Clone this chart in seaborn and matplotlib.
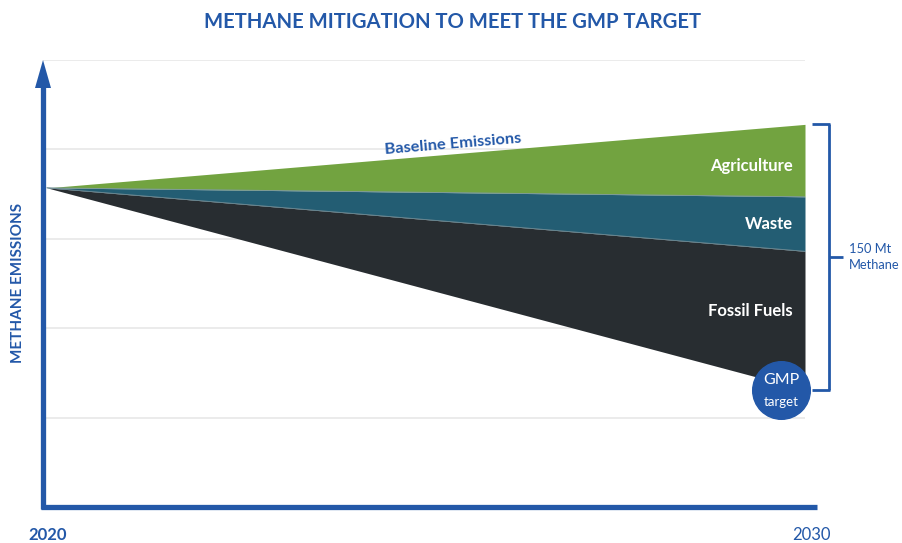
import numpy as np
import pandas as pd
import matplotlib
matplotlib.use("Agg")
import matplotlib.pyplot as plt
import matplotlib.transforms as mtransforms
from matplotlib.lines import Line2D
from matplotlib.patches import Polygon
import seaborn as sns

# ---- data (arbitrary emission units) ----
years = [2020, 2030]
baseline = [3.57, 4.28]          # Baseline Emissions
after_agriculture = [3.57, 3.47]
after_waste = [3.57, 2.86]
gmp_target = [3.57, 1.31]
sector_labels = ["Agriculture", "Waste", "Fossil Fuels"]
title = "METHANE MITIGATION TO MEET THE GMP TARGET"
ylabel = "METHANE EMISSIONS"
x_tick_labels = ["2020", "2030"]
bracket_label = "150 Mt\nMethane"

BLUE = "#2358a8"
GREEN = "#72a340"
TEAL = "#235d73"
DARK = "#282d31"

sns.set_theme(style="white")
plt.rcParams["font.family"] = ["Lato", "DejaVu Sans"]

W, H = 903, 543
fig = plt.figure(figsize=(W / 100, H / 100), dpi=100)
ax_left, ax_right, ax_top, ax_bot = 43, 805, 60, 507
ax = fig.add_axes([ax_left / W, 1 - ax_bot / H, (ax_right - ax_left) / W, (ax_bot - ax_top) / H])

df = pd.DataFrame({"year": years, "baseline": baseline, "agri": after_agriculture,
                   "waste": after_waste, "target": gmp_target})

ax.fill_between(df["year"], df["agri"], df["baseline"], color=GREEN, lw=0, zorder=2)
ax.fill_between(df["year"], df["waste"], df["agri"], color=TEAL, lw=0, zorder=2)
ax.fill_between(df["year"], df["target"], df["waste"], color=DARK, lw=0, zorder=2)
sns.lineplot(data=df, x="year", y="agri", ax=ax, color="#7f9aa3", lw=0.6, zorder=3)
sns.lineplot(data=df, x="year", y="waste", ax=ax, color="#6f8a93", lw=0.6, zorder=3)

# x range: 2020 sits a few pixels right of the vertical axis line
ax.set_xlim(2020 - 10 * 4 / 758, 2030)
ax.set_ylim(0, 5)
ax.set_yticks([1, 2, 3, 4, 5])
ax.set_xticks([])
ax.set_yticklabels([])
ax.tick_params(left=False, bottom=False)
ax.grid(axis="y", color="#e8e8e8", lw=1.2, zorder=0)
ax.set_xlabel("")
ax.set_ylabel("")
for s in ax.spines.values():
    s.set_visible(False)


def px(x, y):
    return (x / W, 1 - y / H)


# axes lines with arrow
tf = fig.transFigure
fig.add_artist(Line2D([px(43, 0)[0], px(43, 0)[0]], [px(0, 509)[1], px(0, 84)[1]],
                      transform=tf, color=BLUE, lw=3.8, solid_capstyle="butt"))
fig.add_artist(Polygon([px(35, 88), px(51, 88), px(43, 60)], closed=True,
                       transform=tf, color=BLUE, lw=0))
fig.add_artist(Line2D([px(41, 0)[0], px(817, 0)[0]], [px(0, 507)[1], px(0, 507)[1]],
                      transform=tf, color=BLUE, lw=3.8, solid_capstyle="butt"))

# title & axis labels
fig.text(px(453, 0)[0], px(0, 22)[1], title, ha="center", va="center", color=BLUE,
         fontsize=14.6, fontweight="bold")
fig.text(px(18, 0)[0], px(0, 283)[1], ylabel, rotation=90, ha="center", va="center",
         color=BLUE, fontsize=11, fontweight="bold")
fig.text(px(48, 0)[0], px(0, 535)[1], x_tick_labels[0], ha="center", va="center",
         color=BLUE, fontsize=12, fontweight="bold")
fig.text(px(811, 0)[0], px(0, 535)[1], x_tick_labels[1], ha="center", va="center",
         color=BLUE, fontsize=12)

# sector labels at 2030
x_end = years[-1]
mids = [(baseline[-1] + after_agriculture[-1]) / 2,
        (after_agriculture[-1] + after_waste[-1]) / 2,
        (after_waste[-1] + gmp_target[-1]) / 2]
dy_pts = [-4, 0, 7]
for lab, m, d in zip(sector_labels, mids, dy_pts):
    ax.annotate(lab, (x_end, m), xytext=(-9, d), textcoords="offset points",
                ha="right", va="center", color="white", fontsize=12, fontweight="bold",
                zorder=5)

# Baseline Emissions label along the top edge
xm = 2025.36
ym = np.interp(xm, years, baseline)
p0 = ax.transData.transform((years[0], baseline[0]))
p1 = ax.transData.transform((years[1], baseline[1]))
ang = np.degrees(np.arctan2(p1[1] - p0[1], p1[0] - p0[0]))
ax.annotate("Baseline Emissions", (xm, ym), xytext=(0, 7), textcoords="offset points",
            ha="center", va="center", rotation=ang, color=BLUE, fontsize=11.8,
            fontweight="bold", zorder=5)

# GMP target circle
circ_tf = mtransforms.offset_copy(ax.transData, fig=fig, x=-24, y=0, units="dots")
ax.plot([x_end], [gmp_target[-1]], marker="o", markersize=41.5, color=BLUE,
        transform=circ_tf, clip_on=False, zorder=6, mec=BLUE)
ax.annotate("GMP", (x_end, gmp_target[-1]), xycoords=circ_tf, xytext=(0, 7),
            textcoords="offset points", ha="center", va="center", color="white",
            fontsize=11.5, zorder=7, annotation_clip=False)
ax.annotate("target", (x_end, gmp_target[-1]), xycoords=circ_tf, xytext=(0, -8.5),
            textcoords="offset points", ha="center", va="center", color="white",
            fontsize=9.5, zorder=7, annotation_clip=False)


# bracket
def off(dx):
    return mtransforms.offset_copy(ax.transData, fig=fig, x=dx, y=0, units="dots")


top, bot = baseline[-1], gmp_target[-1]
mid = (top + bot) / 2
ax.plot([x_end, x_end], [top, bot], transform=off(24), color=BLUE, lw=2.0,
        clip_on=False, solid_capstyle="butt")
for yv, a, b in [(top, 7, 25), (bot, 7, 25), (mid, 24, 38)]:
    pa = off(a).transform((x_end, yv))
    pb = off(b).transform((x_end, yv))
    fig.add_artist(Line2D([pa[0], pb[0]], [pa[1], pb[1]], transform=None,
                          color=BLUE, lw=2.0, solid_capstyle="butt"))
ax.annotate(bracket_label, (x_end, mid), xytext=(44, 0), textcoords="offset pixels",
            ha="left", va="center", color=BLUE, fontsize=9.3, linespacing=1.4,
            annotation_clip=False)

fig.savefig("out.png", dpi=100)
